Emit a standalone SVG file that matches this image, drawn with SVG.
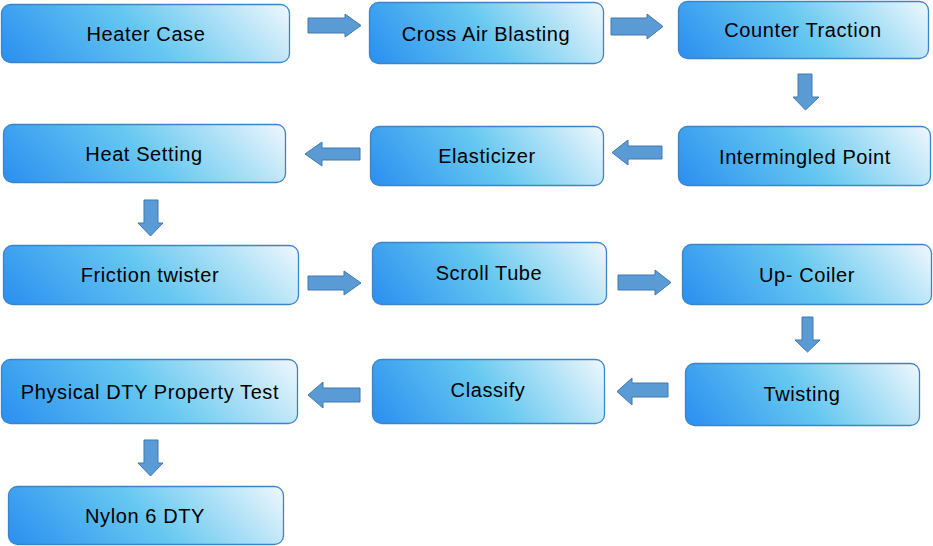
<svg xmlns="http://www.w3.org/2000/svg" width="933" height="546" viewBox="0 0 933 546">
<defs>
<linearGradient id="g" x1="0" y1="1" x2="1.15" y2="0.77">
<stop offset="0" stop-color="#2a8ef0"/>
<stop offset="0.5" stop-color="#66c8f0"/>
<stop offset="1" stop-color="#eef7fc"/>
</linearGradient>
<style>
.box{fill:url(#g);stroke:#3c84c8;stroke-width:1.3}
.t{font-family:"Liberation Sans",Arial,sans-serif;font-size:20px;letter-spacing:0.6px;fill:#000;text-anchor:middle}
.ar{fill:#5b9bd5;stroke:#4178b0;stroke-width:1}
</style>
</defs>
<rect width="933" height="546" fill="#fff"/>
<g id="n1"><rect class="box" x="1.5" y="4.5" width="288" height="58" rx="9"/><text class="t" x="146" y="41">Heater Case</text></g>
<g id="n2"><rect class="box" x="369.5" y="2.5" width="234" height="61" rx="9"/><text class="t" x="486" y="41">Cross Air Blasting</text></g>
<g id="n3"><rect class="box" x="678.5" y="1.5" width="250" height="57" rx="9"/><text class="t" x="803" y="37">Counter Traction</text></g>
<g id="n4"><rect class="box" x="678.5" y="126.5" width="252" height="59" rx="9"/><text class="t" x="805" y="164">Intermingled Point</text></g>
<g id="n5"><rect class="box" x="370.5" y="126.5" width="233" height="59" rx="9"/><text class="t" x="487" y="163">Elasticizer</text></g>
<g id="n6"><rect class="box" x="3.5" y="124.5" width="282" height="58" rx="9"/><text class="t" x="144" y="161">Heat Setting</text></g>
<g id="n7"><rect class="box" x="3.5" y="245.5" width="295" height="59" rx="9"/><text class="t" x="150" y="282">Friction twister</text></g>
<g id="n8"><rect class="box" x="372.5" y="242.5" width="234" height="62" rx="9"/><text class="t" x="489" y="280">Scroll Tube</text></g>
<g id="n9"><rect class="box" x="682.5" y="244.5" width="249" height="60" rx="9"/><text class="t" x="807" y="282">Up- Coiler</text></g>
<g id="n10"><rect class="box" x="685.5" y="363.5" width="234" height="62" rx="9"/><text class="t" x="802" y="401">Twisting</text></g>
<g id="n11"><rect class="box" x="372.5" y="359.5" width="232" height="64" rx="9"/><text class="t" x="488" y="397">Classify</text></g>
<g id="n12"><rect class="box" x="1.5" y="359.5" width="296" height="64" rx="9"/><text class="t" x="150" y="399">Physical DTY Property Test</text></g>
<g id="n13"><rect class="box" x="8.5" y="486.5" width="275" height="58" rx="9"/><text class="t" x="145" y="523">Nylon 6 DTY</text></g>
<g id="connectors">
<path class="ar" d="M308,18 H345 V14 L361,25.5 L345,37 V33 H308 Z"/>
<path class="ar" d="M611,18 H647 V14 L663,26.5 L647,39 V35 H611 Z"/>
<path class="ar" d="M798,74 H812 V97 H819 L805.5,110 L793,97 H798 Z"/>
<path class="ar" d="M662,146 H628 V140 L612,152.5 L628,165 V159 H662 Z"/>
<path class="ar" d="M360,148 H322 V142 L305,154 L322,166 V160 H360 Z"/>
<path class="ar" d="M144,200 H158 V223 H163 L150.5,236 L138,223 H144 Z"/>
<path class="ar" d="M308,276 H344 V271 L361,283 L344,295 V290 H308 Z"/>
<path class="ar" d="M618,275 H655 V270 L671,282.5 L655,295 V290 H618 Z"/>
<path class="ar" d="M802,317 H813 V340 H820 L807.5,352 L795,340 H802 Z"/>
<path class="ar" d="M668,383 H632 V378 L617,391.5 L632,405 V397 H668 Z"/>
<path class="ar" d="M360,388 H323 V382 L308,395 L323,408 V402 H360 Z"/>
<path class="ar" d="M144,440 H158 V463 H163 L150.5,476 L138,463 H144 Z"/>
</g>
</svg>
